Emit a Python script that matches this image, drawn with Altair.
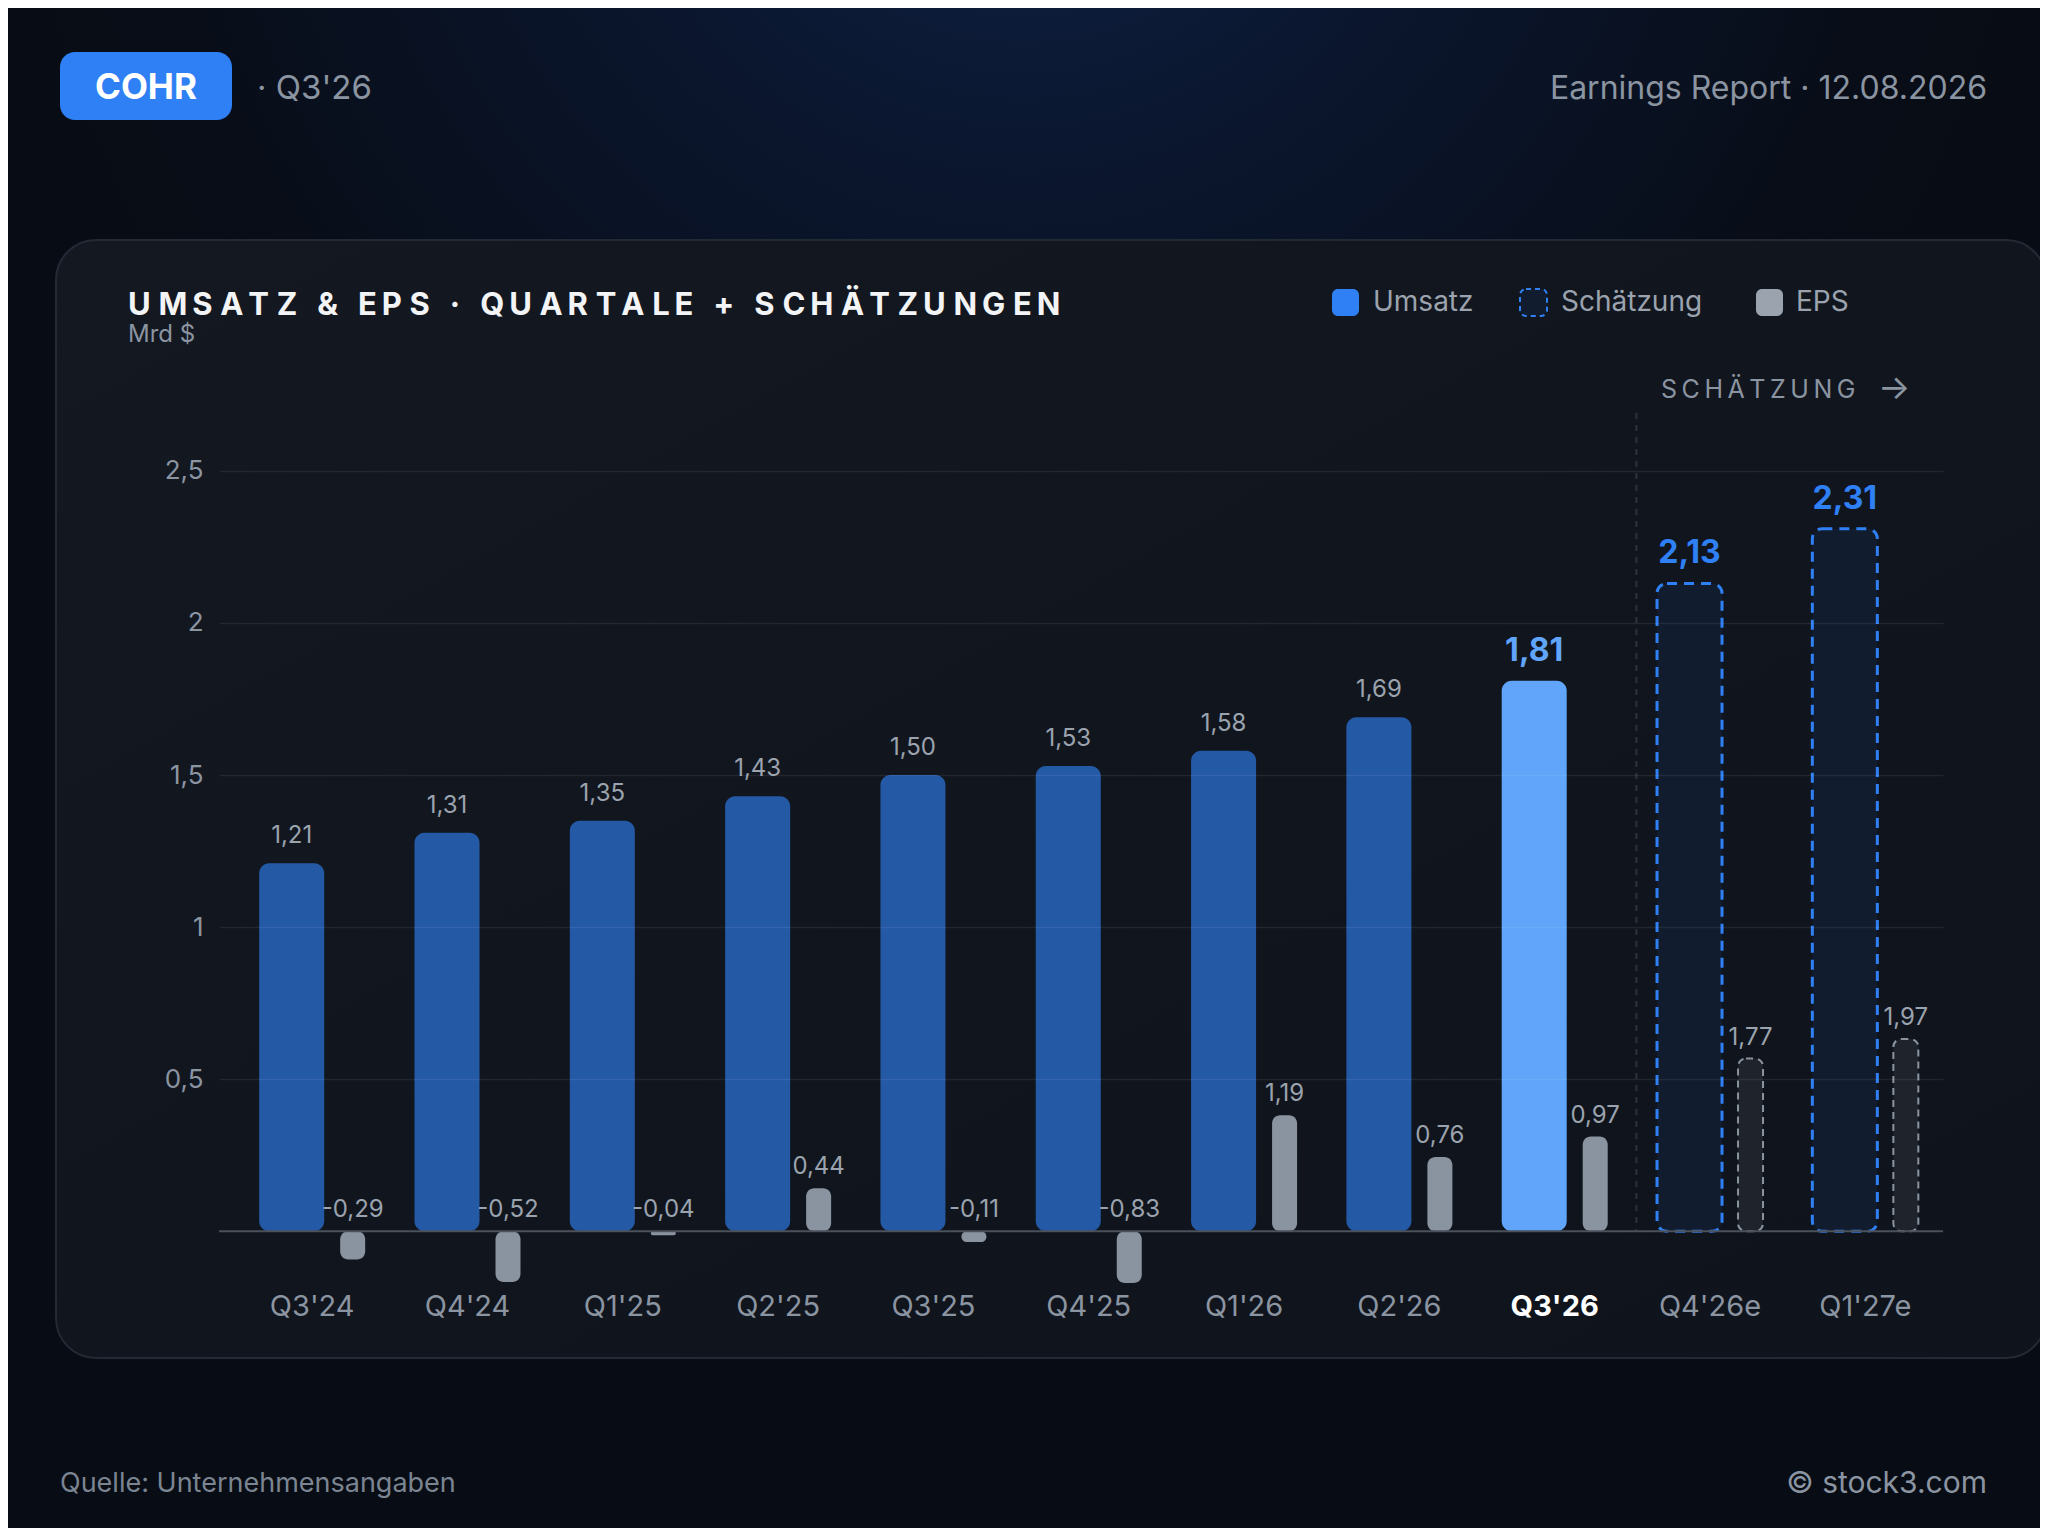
import altair as alt
import pandas as pd

# ---------------- data ----------------
quarters = ["Q3'24", "Q4'24", "Q1'25", "Q2'25", "Q3'25", "Q4'25",
            "Q1'26", "Q2'26", "Q3'26", "Q4'26e", "Q1'27e"]
revenue = [1.21, 1.31, 1.35, 1.43, 1.50, 1.53, 1.58, 1.69, 1.81, 2.13, 2.31]
eps = [-0.29, -0.52, -0.04, 0.44, -0.11, -0.83, 1.19, 0.76, 0.97, 1.77, 1.97]
kind = ["ist"] * 8 + ["aktuell"] + ["schaetzung"] * 2
y_ticks = [0.5, 1, 1.5, 2, 2.5]


def de(v):
    return f"{v:.2f}".replace(".", ",")


df = pd.DataFrame({
    "q": quarters, "rev": revenue, "eps": eps, "kind": kind,
    "rev_lbl": [de(v) for v in revenue],
    "eps_lbl": [de(v) for v in eps],
})
one = pd.DataFrame({"a": [0]})

# ---------------- scales ----------------
REV_DOMAIN = [-0.17, 2.70]
EPS_RATIO = 0.3209  # EPS drawn on its own, compressed scale
EPS_DOMAIN = [d / EPS_RATIO for d in REV_DOMAIN]

rev_scale = alt.Scale(domain=REV_DOMAIN, nice=False, zero=False)
eps_scale = alt.Scale(domain=EPS_DOMAIN, nice=False, zero=False, clamp=True)

FONT = "Inter"
GRAY = "#8b94a1"
LBL = "#9aa3ae"

x_axis = alt.Axis(
    title=None, domain=False, ticks=False, grid=False, labelFontSize=29, labelAngle=0,
    labelFont=FONT, labelPadding=9, zindex=1,
    labelColor={"condition": {"test": "datum.value === \"Q3'26\"", "value": "#ffffff"}, "value": GRAY},
    labelFontWeight={"condition": {"test": "datum.value === \"Q3'26\"", "value": "bold"}, "value": "normal"},
)
x_scale = alt.Scale(type="band", paddingInner=0, paddingOuter=0.05, align=1)


def xenc(**kw):
    return alt.X("q:N", sort=quarters, scale=x_scale, axis=x_axis, **kw)


y_axis = alt.Axis(
    title=None, values=y_ticks, domain=False, ticks=False, grid=True,
    gridColor="#ffffff", gridOpacity=0.075, gridWidth=1.5,
    labelFontSize=26, labelFont=FONT, labelColor=GRAY, labelPadding=16,
    labelExpr="replace(toString(datum.value), '.', ',')", zindex=1,
)

base = alt.Chart(df)
deco = alt.Chart(one)


def spaced(s):
    seps = ["\u2005", "\u2009"]
    out = s[0]
    for i, ch in enumerate(s[1:]):
        out += seps[i % 2] + ch
    return out


# ---------------- decoration ----------------
glow = deco.mark_rect(
    fill=alt.RadialGradient(
        gradient="radial",
        stops=[alt.GradientStop(color="#10254a", offset=0),
               alt.GradientStop(color="#0b1730", offset=0.35),
               alt.GradientStop(color="#080d17", offset=0.8),
               alt.GradientStop(color="#080c14", offset=1)],
        x1=0.5, y1=0.0, r1=0.0, x2=0.5, y2=0.0, r2=0.55),
).encode(x=alt.value(-211), x2=alt.value(1821), y=alt.value(-402), y2=alt.value(1118))

card = deco.mark_rect(
    cornerRadius=40, stroke="#232a35", strokeWidth=2,
    fill=alt.LinearGradient(
        gradient="linear",
        stops=[alt.GradientStop(color="#131821", offset=0),
               alt.GradientStop(color="#0f131b", offset=1)],
        x1=0, y1=0, x2=1, y2=1),
).encode(x=alt.value(-163), x2=alt.value(1827), y=alt.value(-170), y2=alt.value(948))

badge = deco.mark_rect(cornerRadius=15, fill="#2f80f5").encode(
    x=alt.value(-159), x2=alt.value(13), y=alt.value(-358), y2=alt.value(-290))
badge_txt = deco.mark_text(text="COHR", font=FONT, fontSize=35, fontWeight="bold",
                           color="#ffffff", align="center", baseline="middle").encode(
    x=alt.value(-73), y=alt.value(-322))
quarter_txt = deco.mark_text(text="· Q3'26", font=FONT, fontSize=33, color=GRAY,
                             align="left", baseline="middle").encode(
    x=alt.value(38), y=alt.value(-321))
report_txt = deco.mark_text(text="Earnings Report · 12.08.2026", font=FONT, fontSize=32,
                            color=GRAY, align="right", baseline="middle").encode(
    x=alt.value(1768), y=alt.value(-321))

title_str = "UMSATZ & EPS · QUARTALE + SCHÄTZUNGEN"
title_txt = deco.mark_text(text=spaced(title_str), font=FONT, fontSize=31,
                           fontWeight="bold", color="#f3f4f6", align="left",
                           baseline="middle").encode(x=alt.value(-91), y=alt.value(-104))
unit_txt = deco.mark_text(text="Mrd $", font=FONT, fontSize=24, color=GRAY,
                          align="left", baseline="middle").encode(x=alt.value(-91), y=alt.value(-75))

leg_rev = deco.mark_rect(cornerRadius=6, fill="#2f80f5").encode(
    x=alt.value(1113), x2=alt.value(1140), y=alt.value(-121), y2=alt.value(-94))
leg_est = deco.mark_rect(cornerRadius=6, fill="#111c2e", stroke="#2f80f5",
                         strokeDash=[5, 4], strokeWidth=2).encode(
    x=alt.value(1301), x2=alt.value(1328), y=alt.value(-121), y2=alt.value(-94))
leg_eps = deco.mark_rect(cornerRadius=6, fill="#9aa3ae").encode(
    x=alt.value(1537), x2=alt.value(1564), y=alt.value(-121), y2=alt.value(-94))
leg_t1 = deco.mark_text(text="Umsatz", font=FONT, fontSize=28, color=LBL, align="left",
                        baseline="middle").encode(x=alt.value(1154), y=alt.value(-107))
leg_t2 = deco.mark_text(text="Schätzung", font=FONT, fontSize=28, color=LBL, align="left",
                        baseline="middle").encode(x=alt.value(1342), y=alt.value(-107))
leg_t3 = deco.mark_text(text="EPS", font=FONT, fontSize=28, color=LBL, align="left",
                        baseline="middle").encode(x=alt.value(1577), y=alt.value(-107))

est_txt = deco.mark_text(text="\u2009".join("SCHÄTZUNG"), font=FONT, fontSize=25,
                         color=GRAY, align="left", baseline="middle").encode(
    x=alt.value(1442), y=alt.value(-20))
arrow_txt = deco.mark_text(text="→", font=FONT, fontSize=34, color=GRAY,
                           align="left", baseline="middle").encode(
    x=alt.value(1659), y=alt.value(-21))

src_txt = deco.mark_text(text="Quelle: Unternehmensangaben", font=FONT, fontSize=27,
                         color="#7b8592", align="left", baseline="middle").encode(
    x=alt.value(-159), y=alt.value(1074))
copy_txt = deco.mark_text(text="© stock3.com", font=FONT, fontSize=30, color="#8b94a1",
                          align="right", baseline="middle").encode(
    x=alt.value(1768), y=alt.value(1074))

# ---------------- data marks ----------------
rev_bars = base.transform_filter("datum.kind != 'schaetzung'").mark_bar(
    width=65, xOffset=-20.5, cornerRadius=10).encode(
    x=xenc(),
    y=alt.Y("rev:Q", scale=rev_scale, axis=y_axis),
    y2=alt.Y2(datum=0),
    color=alt.Color("kind:N", scale=alt.Scale(domain=["ist", "aktuell"],
                                               range=["#2459a6", "#60a5fa"]), legend=None),
)
rev_est = base.transform_filter("datum.kind == 'schaetzung'").mark_bar(
    width=65, xOffset=-20.5, cornerRadius=10, fill="#111c2e", stroke="#2f80f5",
    strokeDash=[10, 7], strokeWidth=3).encode(
    x=xenc(), y=alt.Y("rev:Q", scale=rev_scale, axis=None), y2=alt.Y2(datum=0))

eps_bars = base.transform_filter("datum.kind != 'schaetzung'").mark_bar(
    width=25, xOffset=40.5, cornerRadius=8, color="#8a94a0").encode(
    x=xenc(), y=alt.Y("eps:Q", scale=eps_scale, axis=None), y2=alt.Y2(datum=0))
eps_est = base.transform_filter("datum.kind == 'schaetzung'").mark_bar(
    width=25, xOffset=40.5, cornerRadius=8, fill="#1f232b", stroke="#8a94a0",
    strokeDash=[7, 5], strokeWidth=2).encode(
    x=xenc(), y=alt.Y("eps:Q", scale=eps_scale, axis=None), y2=alt.Y2(datum=0))

rev_lbl = base.transform_filter("datum.kind == 'ist'").mark_text(
    xOffset=-20.5, dy=-20, baseline="alphabetic", align="center", font=FONT,
    fontSize=24, color=LBL).encode(
    x=xenc(), y=alt.Y("rev:Q", scale=rev_scale, axis=None), text="rev_lbl:N")
rev_lbl_big = base.transform_filter("datum.kind != 'ist'").mark_text(
    xOffset=-20.5, dy=-20, baseline="alphabetic", align="center", font=FONT,
    fontSize=32, fontWeight="bold").encode(
    x=xenc(), y=alt.Y("rev:Q", scale=rev_scale, axis=None), text="rev_lbl:N",
    color=alt.Color("kind:N", scale=alt.Scale(domain=["aktuell", "schaetzung"],
                                               range=["#60a5fa", "#2f80f5"]), legend=None))

eps_lbl = base.transform_calculate(eps_pos="max(datum.eps, 0)").mark_text(
    xOffset=40.5, dy=-14, baseline="alphabetic", align="center", font=FONT,
    fontSize=24, color=LBL).encode(
    x=xenc(), y=alt.Y("eps_pos:Q", scale=eps_scale, axis=None), text="eps_lbl:N")

zero_rule = deco.mark_rule(color="#4b525c", strokeWidth=2).encode(
    y=alt.Y(datum=0, scale=rev_scale, axis=None))

divider = base.transform_filter("datum.q == \"Q4'26e\"").mark_rule(
    color="#2c333e", strokeDash=[6, 6], strokeWidth=2, xOffset=4).encode(
    x=xenc(bandPosition=0),
    y=alt.Y(datum=2.69, scale=rev_scale, axis=None), y2=alt.Y2(datum=0))

chart = alt.layer(
    glow, card, badge, badge_txt, quarter_txt, report_txt, title_txt, unit_txt,
    leg_rev, leg_est, leg_eps, leg_t1, leg_t2, leg_t3, est_txt, arrow_txt, src_txt, copy_txt,
    divider, rev_bars, rev_est, eps_bars, eps_est, zero_rule, rev_lbl, rev_lbl_big, eps_lbl,
).resolve_scale(y="independent", color="independent").properties(
    width=1724, height=873,
    padding={"left": 211, "top": 402, "right": 97, "bottom": 245},
    autosize=alt.AutoSizeParams(type="none"),
    background="#0a0e16",
).configure_view(stroke=None).configure(font=FONT)

chart.save("out.html", embed_options={"renderer": "svg", "actions": False})
